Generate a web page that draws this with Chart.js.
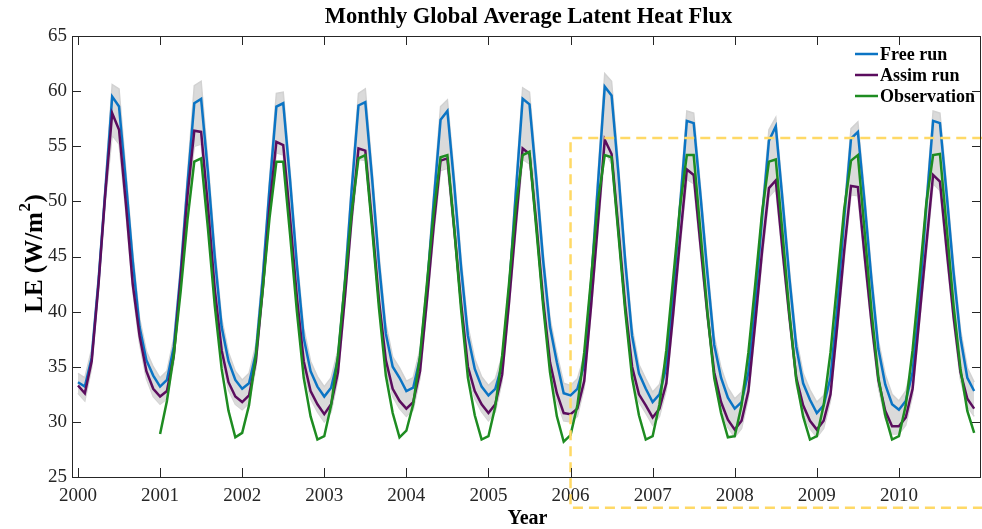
<!DOCTYPE html>
<html>
<head>
<meta charset="utf-8">
<script src="https://cdn.jsdelivr.net/npm/chart.js@4.4.0/dist/chart.umd.min.js"></script>
<style>
  html, body { margin: 0; padding: 0; background: #fff; overflow: hidden; }
  #wrap { width: 982px; height: 529px; }
</style>
</head>
<body>
<div id="wrap"><canvas id="myChart"></canvas></div>
<script>
// monthly values, Jan 2000 .. Dec 2010
const startYear = 2000
const freeRun = [
  33.6, 33.2, 35.8, 42.8, 51.0, 59.5, 58.6, 51.8, 44.6, 38.6, 35.6, 34.2,
  33.2, 33.8, 36.8, 43.5, 51.5, 58.9, 59.3, 52.6, 44.9, 38.6, 35.5, 33.8,
  33.0, 33.5, 36.2, 43.0, 51.2, 58.6, 58.9, 51.9, 44.2, 37.6, 34.6, 33.2,
  32.3, 33.1, 35.7, 42.5, 51.0, 58.7, 59.0, 52.0, 44.3, 38.0, 35.0, 34.0,
  32.8, 33.1, 35.8, 42.0, 50.0, 57.4, 58.2, 51.5, 44.0, 37.8, 34.8, 33.2,
  32.4, 33.0, 35.2, 41.8, 50.8, 59.3, 58.8, 52.0, 44.6, 38.6, 35.4, 32.6,
  32.4, 33.0, 35.2, 42.5, 51.5, 60.4, 59.6, 52.5, 44.5, 37.8, 34.4, 33.0,
  31.8, 32.5, 35.0, 41.5, 49.5, 57.3, 57.1, 50.5, 43.5, 37.0, 34.0, 32.2,
  31.2, 31.8, 34.5, 40.8, 48.5, 55.5, 56.8, 50.0, 43.0, 36.8, 33.5, 32.0,
  30.8, 31.5, 34.0, 40.5, 48.5, 55.7, 56.3, 49.8, 42.8, 36.6, 33.4, 31.6,
  31.1, 31.9, 34.5, 41.0, 49.5, 57.3, 57.1, 50.5, 43.5, 37.6, 34.0, 32.8
]
const assimRun = [
  33.3, 32.6, 35.5, 42.5, 50.8, 58.0, 56.5, 49.8, 42.5, 37.8, 34.6, 33.0,
  32.3, 32.8, 36.0, 43.0, 50.5, 56.4, 56.3, 49.5, 42.0, 36.5, 33.6, 32.3,
  31.8, 32.4, 35.5, 42.0, 49.5, 55.4, 55.1, 48.5, 41.3, 35.5, 32.8, 31.6,
  30.7, 31.6, 34.5, 41.2, 48.5, 54.8, 54.6, 48.0, 41.0, 35.6, 33.0, 31.9,
  31.2, 31.8, 34.6, 41.0, 47.8, 53.7, 53.9, 47.5, 40.8, 35.0, 32.8, 31.6,
  30.8, 31.6, 34.3, 40.8, 48.0, 54.8, 54.3, 48.0, 41.0, 35.4, 32.6, 30.8,
  30.7, 31.2, 33.7, 40.5, 48.0, 55.6, 54.3, 47.5, 40.5, 35.0, 32.5, 31.5,
  30.4, 31.2, 33.5, 39.8, 46.5, 52.9, 52.4, 46.0, 39.8, 34.5, 31.8, 30.2,
  29.3, 30.1, 32.8, 39.0, 45.5, 51.2, 51.9, 45.5, 39.5, 34.0, 31.5, 30.1,
  29.3, 30.1, 32.5, 38.8, 45.5, 51.4, 51.3, 45.0, 39.0, 33.8, 31.0, 29.6,
  29.6, 30.4, 33.0, 39.5, 46.0, 52.4, 51.8, 45.5, 39.5, 34.5, 32.1, 31.2
]
// observation starts Jan 2001
const obsStartYear = 2001
const observation = [
  28.9, 31.9, 36.1, 41.8, 48.3, 53.6, 53.9, 47.5, 40.5, 34.8, 31.0, 28.6,
  29.0, 31.5, 36.0, 42.0, 48.5, 53.6, 53.6, 47.0, 40.0, 34.0, 30.5, 28.4,
  28.7, 31.5, 36.0, 42.5, 49.0, 53.9, 54.2, 47.5, 40.3, 34.2, 30.8, 28.6,
  29.2, 31.6, 36.0, 42.5, 49.0, 54.0, 54.2, 47.5, 40.2, 34.0, 30.6, 28.4,
  28.7, 31.4, 36.0, 42.5, 49.5, 54.2, 54.5, 47.5, 40.5, 34.5, 30.5, 28.2,
  28.8, 31.5, 36.3, 43.0, 50.0, 54.2, 54.0, 47.0, 40.0, 34.0, 30.6, 28.4,
  28.7, 31.6, 36.5, 43.0, 49.5, 54.2, 54.2, 47.2, 40.0, 34.0, 30.8, 28.6,
  28.7, 31.5, 36.3, 42.5, 49.0, 53.6, 53.8, 47.0, 39.8, 33.8, 30.5, 28.4,
  28.7, 31.5, 36.3, 42.8, 49.3, 53.7, 54.2, 47.2, 40.0, 34.0, 30.6, 28.4,
  28.7, 31.5, 36.5, 43.0, 49.8, 54.2, 54.3, 47.5, 40.5, 34.8, 31.0, 29.0
]
// grey ensemble spread (upper and lower edge of the members)
const ensembleHi = [
  34.4, 34.0, 36.6, 43.4, 51.8, 60.6, 60.2, 52.8, 45.4, 39.4, 36.4, 35.0,
  34.0, 34.6, 37.6, 44.2, 52.4, 60.5, 60.9, 53.6, 45.8, 39.4, 36.3, 34.6,
  33.8, 34.4, 37.0, 43.8, 52.0, 59.8, 59.9, 52.8, 45.0, 38.5, 35.5, 34.1,
  33.2, 34.0, 36.5, 43.3, 51.8, 59.8, 60.2, 52.9, 45.2, 38.9, 35.9, 34.9,
  33.7, 34.0, 36.6, 42.8, 50.8, 58.6, 59.2, 52.4, 44.9, 38.7, 35.7, 34.1,
  33.3, 33.9, 36.0, 42.6, 51.6, 60.3, 59.9, 52.9, 45.4, 39.4, 36.2, 33.5,
  33.3, 33.9, 36.0, 43.3, 52.4, 61.6, 60.9, 53.4, 45.3, 38.6, 35.2, 33.9,
  32.7, 33.4, 35.8, 42.3, 50.3, 58.2, 58.0, 51.3, 44.3, 37.8, 34.9, 33.1,
  32.1, 32.7, 35.3, 41.6, 49.3, 56.5, 57.6, 50.8, 43.8, 37.6, 34.4, 32.9,
  31.8, 32.4, 34.8, 41.3, 49.3, 56.6, 57.2, 50.6, 43.6, 37.4, 34.3, 32.5,
  31.9, 32.8, 35.3, 41.8, 50.3, 58.2, 58.0, 51.3, 44.3, 38.4, 34.9, 33.6
]
const ensembleLo = [
  32.6, 31.9, 34.9, 41.9, 50.0, 56.0, 55.2, 49.0, 41.9, 37.1, 33.9, 32.3,
  31.6, 32.1, 35.4, 42.4, 49.7, 55.0, 55.2, 48.7, 41.4, 35.8, 32.9, 31.6,
  31.1, 31.7, 34.9, 41.4, 48.7, 54.4, 54.2, 47.8, 40.7, 34.8, 32.1, 30.9,
  30.0, 30.9, 33.9, 40.6, 47.7, 53.8, 53.7, 47.3, 40.4, 34.9, 32.3, 31.2,
  30.5, 31.1, 34.0, 40.4, 47.0, 52.8, 53.0, 46.8, 40.2, 34.3, 32.1, 30.9,
  30.1, 30.9, 33.7, 40.2, 47.2, 53.8, 53.4, 47.3, 40.4, 34.7, 31.9, 30.1,
  30.0, 30.5, 33.1, 39.9, 47.2, 54.6, 53.4, 46.8, 39.9, 34.3, 31.8, 30.8,
  29.7, 30.5, 32.9, 39.2, 45.7, 52.0, 51.6, 45.3, 39.2, 33.8, 31.1, 29.5,
  28.6, 29.4, 32.2, 38.4, 44.7, 50.4, 51.1, 44.8, 38.9, 33.3, 30.8, 29.4,
  28.6, 29.4, 31.9, 38.2, 44.7, 50.6, 50.5, 44.3, 38.4, 33.1, 30.3, 28.9,
  28.9, 29.7, 32.4, 38.9, 45.2, 51.6, 51.0, 44.8, 38.9, 33.8, 31.4, 30.5
]
const xTicks = [2000, 2001, 2002, 2003, 2004, 2005, 2006, 2007, 2008, 2009, 2010]
const yTicks = [25, 30, 35, 40, 45, 50, 55, 60, 65]
// dashed highlight box (years / LE values)
const boxX = [2006, 2011.6]
const boxY = [55.75, 22.2]

const seriesNames = ['Free run', 'Assim run', 'Observation']
const colors = { free: '#0B74C4', assim: '#5B0D5E', obs: '#1E8C21', ens: '#D2D2D2', box: '#FFD966' }

const toPoints = (arr, y0) => arr.map((v, i) => ({ x: y0 + i / 12, y: v }))

const serif = "'Liberation Serif', 'Times New Roman', serif"

const decorations = {
  id: 'decorations',
  afterDraw(chart) {
    const { ctx, chartArea: a, scales: { x, y } } = chart
    ctx.save()
    ctx.strokeStyle = '#262626'
    ctx.lineWidth = 1
    // box around the axes
    ctx.strokeRect(a.left + 0.5, a.top + 0.5, a.right - a.left - 1, a.bottom - a.top)
    // inward ticks on all four sides
    ctx.beginPath()
    yTicks.forEach(v => {
      const py = Math.round(y.getPixelForValue(v)) + 0.5
      ctx.moveTo(a.left, py); ctx.lineTo(a.left + 9, py)
      ctx.moveTo(a.right, py); ctx.lineTo(a.right - 9, py)
    })
    xTicks.forEach(v => {
      const px = Math.round(x.getPixelForValue(v)) + 0.5
      ctx.moveTo(px, a.bottom); ctx.lineTo(px, a.bottom - 9)
      ctx.moveTo(px, a.top); ctx.lineTo(px, a.top + 9)
    })
    ctx.stroke()

    // titles
    ctx.fillStyle = '#000'
    ctx.textAlign = 'center'
    ctx.textBaseline = 'middle'
    ctx.font = 'bold 22.5px ' + serif
    ctx.fillText('Monthly Global Average Latent Heat Flux', (a.left + a.right) / 2 + 2, 17)
    ctx.font = 'bold 20px ' + serif
    ctx.fillText('Year', (a.left + a.right) / 2 + 1, 519)

    // y label with a real superscript
    ctx.save()
    ctx.translate(34, 254)
    ctx.rotate(-Math.PI / 2)
    ctx.textAlign = 'left'
    ctx.textBaseline = 'alphabetic'
    const big = 'bold 25px ' + serif, small = 'bold 17px ' + serif
    ctx.font = big
    const w1 = ctx.measureText('LE (W/m').width
    const w3 = ctx.measureText(')').width
    ctx.font = small
    const w2 = ctx.measureText('2').width
    let sx = -(w1 + w2 + w3) / 2
    ctx.font = big
    ctx.fillText('LE (W/m', sx, 8)
    ctx.font = small
    ctx.fillText('2', sx + w1 + 0.5, -4)
    ctx.font = big
    ctx.fillText(')', sx + w1 + w2 + 1, 8)
    ctx.restore()

    // legend
    const lc = [colors.free, colors.assim, colors.obs]
    ctx.font = 'bold 18px ' + serif
    ctx.textAlign = 'left'
    seriesNames.forEach((name, i) => {
      const ly = a.top + 18 + i * 21
      ctx.strokeStyle = lc[i]
      ctx.lineWidth = 2.5
      ctx.beginPath()
      ctx.moveTo(a.right - 126, ly); ctx.lineTo(a.right - 103, ly)
      ctx.stroke()
      ctx.fillStyle = '#000'
      ctx.fillText(name, a.right - 101, ly + 1)
    })
    ctx.restore()
  }
}

const ctx = document.getElementById('myChart').getContext('2d')
const lineStyle = { pointRadius: 0, tension: 0, fill: false }

new Chart(ctx, {
  type: 'line',
  data: {
    datasets: [
      {
        label: 'box',
        data: [
          { x: boxX[1], y: boxY[0] }, { x: boxX[0], y: boxY[0] },
          { x: boxX[0], y: boxY[1] }, { x: boxX[1], y: boxY[1] }
        ],
        borderColor: colors.box, borderWidth: 2.5, borderDash: [10, 6], clip: false, ...lineStyle
      },
      { label: 'Observation', data: toPoints(observation, obsStartYear), borderColor: colors.obs, borderWidth: 2.5, ...lineStyle },
      { label: 'Assim run', data: toPoints(assimRun, startYear), borderColor: colors.assim, borderWidth: 2.5, ...lineStyle },
      { label: 'Free run', data: toPoints(freeRun, startYear), borderColor: colors.free, borderWidth: 2.5, ...lineStyle },
      { label: 'ensHi', data: toPoints(ensembleHi, startYear), borderColor: colors.ens, borderWidth: 1.5, ...lineStyle, fill: '+1', backgroundColor: '#DADADA' },
      { label: 'ensLo', data: toPoints(ensembleLo, startYear), borderColor: colors.ens, borderWidth: 1.5, ...lineStyle }
    ]
  },
  options: {
    responsive: true,
    maintainAspectRatio: false,
    devicePixelRatio: 1,
    animation: false,
    layout: { padding: { top: 36, right: 1, left: 0, bottom: 0 } },
    plugins: { legend: { display: false }, title: { display: false }, tooltip: { enabled: false } },
    scales: {
      x: {
        type: 'linear',
        min: 1999.927,
        max: 2011,
        afterBuildTicks: s => { s.ticks = xTicks.map(v => ({ value: v })) },
        afterFit: s => { s.height = 52 },
        grid: { display: false, drawTicks: false },
        border: { display: false },
        ticks: {
          padding: 8, maxRotation: 0, autoSkip: false,
          font: { family: serif, size: 19 }, color: '#262626',
          callback: v => String(v)
        }
      },
      y: {
        min: 25,
        max: 65,
        afterBuildTicks: s => { s.ticks = yTicks.map(v => ({ value: v })) },
        afterFit: s => { s.width = 72 },
        grid: { display: false, drawTicks: false },
        border: { display: false },
        ticks: {
          padding: 5,
          font: { family: serif, size: 19 }, color: '#262626',
          callback: v => String(v)
        }
      }
    }
  },
  plugins: [decorations]
})
</script>
</body>
</html>
